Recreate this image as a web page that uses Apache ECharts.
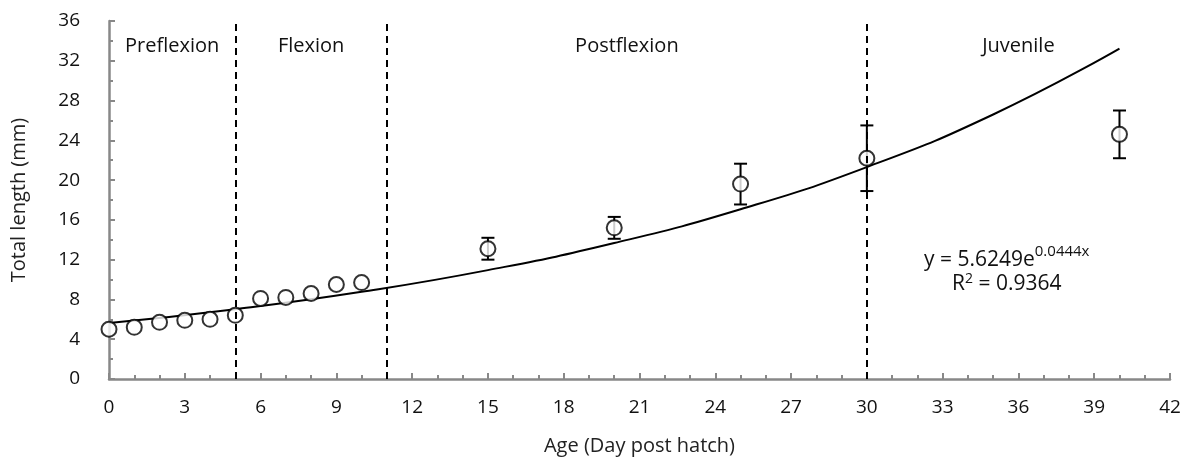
<!DOCTYPE html>
<html>
<head>
<meta charset="utf-8">
<script src="https://cdn.jsdelivr.net/npm/echarts@6/dist/echarts.min.js"></script>
<style>
html, body { margin: 0; padding: 0; background: #fff; }
#chart { width: 1186px; height: 461px; }
</style>
</head>
<body>
<div id="chart"></div>
<script>
// measured points: age (dph), mean total length, error (±)
const ages = [0, 1, 2, 3, 4, 5, 6, 7, 8, 9, 10, 15, 20, 25, 30, 40];
const lengths = [5.0, 5.2, 5.7, 5.9, 6.0, 6.4, 8.1, 8.2, 8.6, 9.5, 9.7, 13.1, 15.2, 19.6, 22.2, 24.6];
const errors = [0, 0, 0, 0, 0, 0, 0, 0, 0, 0, 0, 1.1, 1.1, 2.05, 3.3, 2.4];

// exponential trendline
const trendX = [0, 5, 10, 15, 20, 25, 30, 35, 40];
const trendY = [5.62, 7.02, 8.77, 10.95, 13.67, 17.07, 21.31, 26.6, 33.22];

// developmental stages
const stageNames = ['Preflexion', 'Flexion', 'Postflexion', 'Juvenile'];
const stageStart = [0, 5, 11, 30];
const stageEnd = [5, 11, 30, 42];
const boundaries = [5, 11, 30];

const FONT = 'Open Sans';

const chart = echarts.init(document.getElementById('chart'));

const points = ages.map((a, i) => [a, lengths[i], errors[i]]);

const option = {
    backgroundColor: '#fff',
    animation: false,
    textStyle: { fontFamily: FONT },
    grid: { left: 109, right: 16, top: 21, bottom: 82, containLabel: false },
    xAxis: {
        type: 'value',
        min: 0,
        max: 42,
        interval: 3,
        name: 'Age (Day post hatch)',
        nameLocation: 'middle',
        nameGap: 57,
        nameTextStyle: { color: '#222', fontSize: 20, fontFamily: FONT },
        axisLine: { show: true, lineStyle: { color: '#888', width: 2.5 } },
        axisTick: { show: true, inside: true, length: 6, lineStyle: { color: '#888', width: 2 } },
        minorTick: { show: true, splitNumber: 3, length: 4, lineStyle: { color: '#888', width: 2 } },
        axisLabel: { color: '#111', fontSize: 19, margin: 19, fontFamily: FONT },
        splitLine: { show: false }
    },
    yAxis: {
        type: 'value',
        min: 0,
        max: 36,
        interval: 4,
        name: 'Total length (mm)',
        nameLocation: 'middle',
        nameGap: 80,
        nameTextStyle: { color: '#222', fontSize: 20, fontFamily: FONT },
        axisLine: { show: true, lineStyle: { color: '#888', width: 2.5 } },
        axisTick: { show: true, inside: true, length: 6, lineStyle: { color: '#888', width: 2 } },
        minorTick: { show: true, splitNumber: 2, length: 4, lineStyle: { color: '#888', width: 2 } },
        axisLabel: { color: '#111', fontSize: 19, margin: 29, fontFamily: FONT },
        splitLine: { show: false }
    },
    series: [
        {
            name: 'trend',
            type: 'line',
            data: trendX.map((x, i) => [x, trendY[i]]),
            smooth: true,
            symbol: 'none',
            lineStyle: { color: '#000', width: 2 },
            z: 2
        },
        {
            name: 'errors',
            type: 'custom',
            data: points,
            z: 3,
            renderItem: function (params, api) {
                const x = api.value(0), y = api.value(1), e = api.value(2);
                if (!e) return null;
                const top = api.coord([x, y + e]);
                const bot = api.coord([x, y - e]);
                const hw = 6.5;
                const style = { stroke: '#000', lineWidth: 2 };
                return {
                    type: 'group',
                    children: [
                        { type: 'line', shape: { x1: top[0], y1: top[1], x2: bot[0], y2: bot[1] }, style: style },
                        { type: 'line', shape: { x1: top[0] - hw, y1: top[1], x2: top[0] + hw, y2: top[1] }, style: style },
                        { type: 'line', shape: { x1: bot[0] - hw, y1: bot[1], x2: bot[0] + hw, y2: bot[1] }, style: style }
                    ]
                };
            }
        },
        {
            name: 'length',
            type: 'scatter',
            data: points,
            symbol: 'circle',
            symbolSize: 15,
            itemStyle: { color: '#fff', borderColor: '#000', borderWidth: 2 },
            z: 4
        },
        {
            name: 'stages',
            type: 'line',
            data: [],
            z: 5,
            markLine: {
                silent: true,
                symbol: ['none', 'none'],
                label: { show: false },
                lineStyle: { color: '#000', type: [7, 5], width: 2 },
                data: boundaries.map(b => ({ xAxis: b }))
            },
            markArea: {
                silent: true,
                itemStyle: { color: 'rgba(0,0,0,0)' },
                label: {
                    show: true,
                    position: 'insideTop',
                    distance: 15,
                    color: '#111',
                    fontSize: 20,
                    fontFamily: FONT
                },
                data: stageNames.map((n, i) => [
                    { name: n, xAxis: stageStart[i], yAxis: 36 },
                    { xAxis: stageEnd[i], yAxis: 0 }
                ])
            }
        }
    ],
    graphic: [
        {
            type: 'text',
            left: 924,
            top: 244,
            style: {
                text: '{b|y = 5.6249e}{s|0.0444x}',
                rich: {
                    b: { fontSize: 21, fontFamily: FONT, fill: '#111', verticalAlign: 'bottom', lineHeight: 27 },
                    s: { fontSize: 15, fontFamily: FONT, fill: '#111', verticalAlign: 'top', lineHeight: 27, padding: [0, 0, 10, 0] }
                }
            }
        },
        {
            type: 'text',
            left: 952,
            top: 272,
            style: {
                text: '{b|R}{s|2}{b| = 0.9364}',
                rich: {
                    b: { fontSize: 21, fontFamily: FONT, fill: '#111', lineHeight: 27 },
                    s: { fontSize: 14, fontFamily: FONT, fill: '#111', lineHeight: 27, padding: [0, 0, 10, 0] }
                }
            }
        }
    ]
};

chart.setOption(option);
</script>
</body>
</html>
